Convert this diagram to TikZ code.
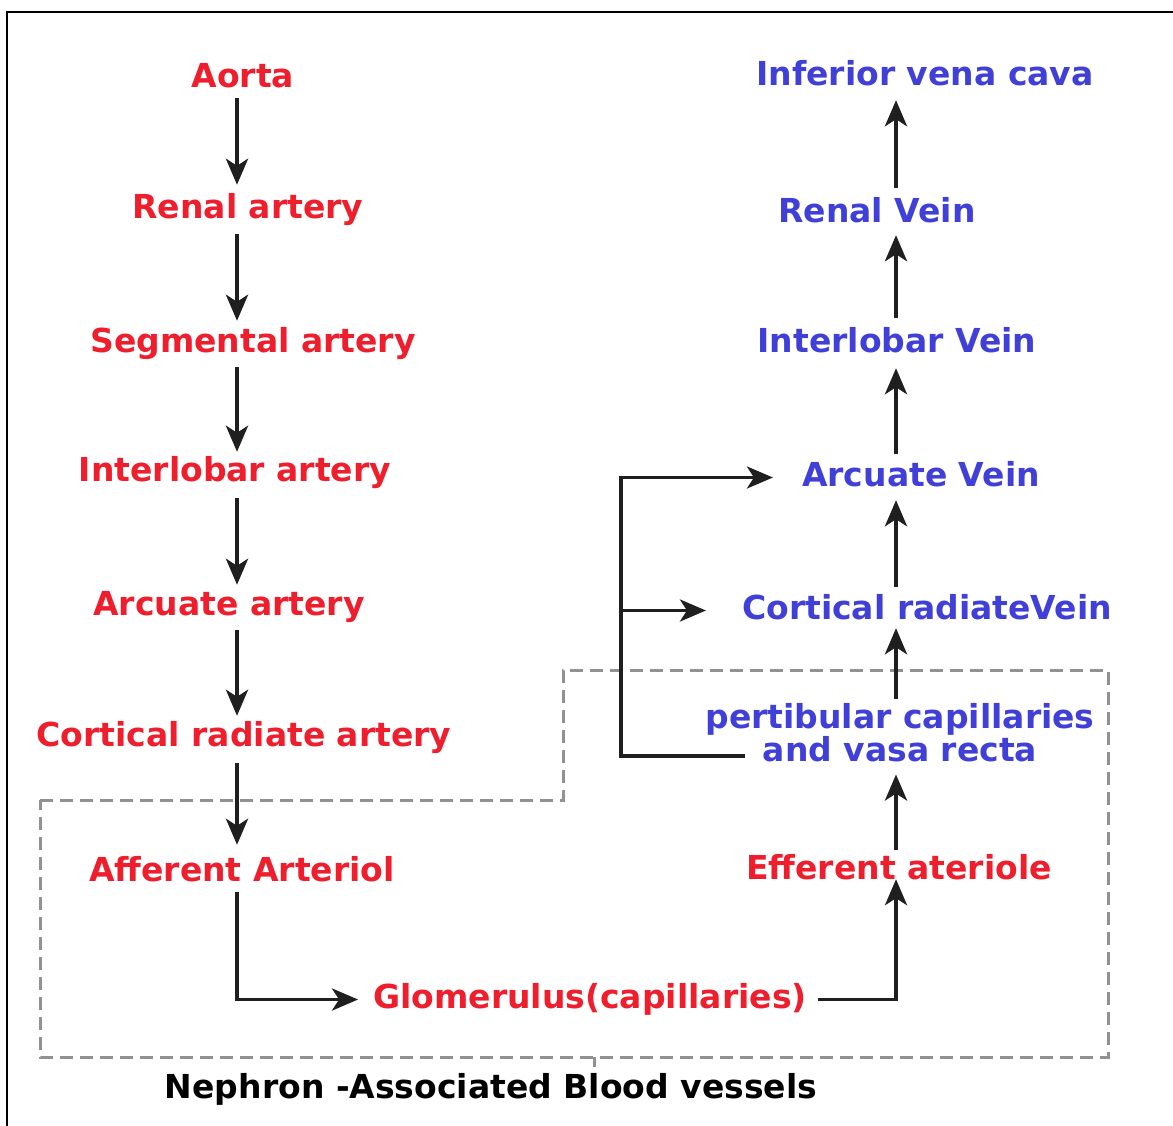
\documentclass[tikz,border=0pt]{standalone}
\usepackage{fontspec}
\setmainfont{DejaVu Sans}
\usetikzlibrary{arrows.meta}
\definecolor{redt}{RGB}{238,30,45}
\definecolor{bluet}{RGB}{64,64,216}
\definecolor{dashgray}{RGB}{145,145,145}
\begin{document}
\begin{tikzpicture}[x=1pt,y=-1pt,
  lbl/.style={inner sep=0pt, anchor=base, font=\fontsize{33pt}{33pt}\selectfont\bfseries, text height=24pt, text depth=7pt},
  art/.style={lbl, text=redt},
  vein/.style={lbl, text=bluet},
  arr/.style={line width=4.2pt, draw=black!88, -{Stealth[length=26pt,width=22pt,inset=7pt]}, shorten <=8pt, shorten >=7pt},
  nephbox/.style={draw=dashgray, line width=3pt, dash pattern=on 13pt off 7pt}
]
\useasboundingbox (0,0) rectangle (1173,1126);
\fill[white] (0,0) rectangle (1173,1126);
% frame
\draw[line width=2.6pt] (7,1130) -- (7,12) -- (1180,12);

% nephron box
\draw[nephbox] (40,800) -- (563,800) -- (563,670) -- (1108,670) -- (1108,1057) -- (40,1057) -- cycle;
\draw[dashgray, line width=3pt] (594,1057) -- (594,1067);

\coordinate (lx) at (237,0);
\coordinate (rx) at (896,0);
\coordinate (bx) at (621,0);

% left column
\node[art] (aorta) at (243,88) {Aorta};
\node[art] (renala) at (248,219) {Renal artery};
\node[art] (sega) at (253,352) {Segmental artery};
\node[art] (intera) at (235,481) {Interlobar artery};
\node[art] (arca) at (229,615) {Arcuate artery};
\node[art] (corta) at (244,746) {Cortical radiate artery};
\node[art] (aff) at (242,881) {Afferent Arteriol};
\node[art] (glom) at (590,1008) {Glomerulus(capillaries)};

% right column
\node[vein] (ivc) at (925,86) {Inferior vena cava};
\node[vein] (renalv) at (877,223) {Renal Vein};
\node[vein] (interv) at (897,352) {Interlobar Vein};
\node[vein] (arcv) at (921,486) {Arcuate Vein};
\node[vein] (crv) at (927,619) {Cortical radiateVein};
\node[inner sep=0pt, align=center, text=bluet, font=\fontsize{33pt}{33pt}\selectfont\bfseries] (pert) at (900,733) {pertibular capillaries\\and vasa recta};
\node[art] (eff) at (899,879) {Efferent ateriole};

% caption
\node[lbl, text=black] (cap) at (491,1098) {Nephron -Associated Blood vessels};

% left arrows
\draw[arr, shorten <=3pt, shorten >=10pt] (aorta.south -| lx) -- (renala.north -| lx);
\draw[arr] (renala.south -| lx) -- (sega.north -| lx);
\draw[arr, shorten >=5pt] (sega.south -| lx) -- (intera.north -| lx);
\draw[arr, shorten <=10pt, shorten >=6pt] (intera.south -| lx) -- (arca.north -| lx);
\draw[arr, shorten >=6pt] (arca.south -| lx) -- (corta.north -| lx);
\draw[arr, shorten <=10pt, shorten >=12pt] (corta.south -| lx) -- (aff.north -| lx);
\draw[arr, shorten <=4pt, shorten >=15pt, line width=3.6pt] (aff.south -| lx) |- (glom.west);
\draw[arr, shorten <=11pt, shorten >=-7pt, line width=3.6pt] (glom.east) -| (eff.south -| rx);

% right arrows
\draw[arr, shorten <=5pt, shorten >=12pt] (eff.north -| rx) -- (pert.south -| rx);
\draw[arr, shorten <=5pt, shorten >=2pt] (pert.north -| rx) -- (crv.south -| rx);
\draw[arr] (crv.north -| rx) -- (arcv.south -| rx);
\draw[arr, shorten >=9pt] (arcv.north -| rx) -- (interv.south -| rx);
\draw[arr, shorten <=10pt, shorten >=5pt] (interv.north -| rx) -- (renalv.south -| rx);
\draw[arr, shorten <=11pt] (renalv.north -| rx) -- (ivc.south -| rx);

% branch
\coordinate (bstart) at (745,756);
\draw[arr, shorten <=0pt, shorten >=29pt, line width=3.6pt] (bstart) -| (bx |- arcv.west) -- (arcv.west);
\draw[arr, shorten <=0pt, shorten >=36pt, line width=3.6pt] (bx |- crv.west) -- (crv.west);
\end{tikzpicture}
\end{document}
